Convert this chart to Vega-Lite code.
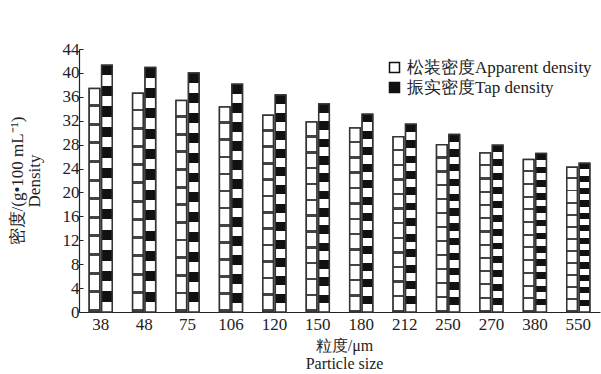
{
  "$schema": "https://vega.github.io/schema/vega-lite/v6.json",
  "autosize": "none",
  "width": 521,
  "height": 263,
  "padding": {"left": 79, "top": 49, "right": 1, "bottom": 62},
  "background": "white",
  "config": {
    "font": "Liberation Serif",
    "view": {"stroke": null},
    "axis": {"labelFont": "Liberation Serif", "titleFont": "Liberation Serif", "labelColor": "#222", "titleColor": "#222", "domainColor": "#222", "tickColor": "#222", "grid": false, "titleFontWeight": "normal"}
  },
  "data": {
    "values": [
      {"size": "38", "type": "松装密度Apparent density", "density": 37.4},
      {"size": "38", "type": "振实密度Tap density", "density": 41.3},
      {"size": "48", "type": "松装密度Apparent density", "density": 36.6},
      {"size": "48", "type": "振实密度Tap density", "density": 40.9},
      {"size": "75", "type": "松装密度Apparent density", "density": 35.4},
      {"size": "75", "type": "振实密度Tap density", "density": 40.0},
      {"size": "106", "type": "松装密度Apparent density", "density": 34.3},
      {"size": "106", "type": "振实密度Tap density", "density": 38.1},
      {"size": "120", "type": "松装密度Apparent density", "density": 32.9},
      {"size": "120", "type": "振实密度Tap density", "density": 36.3},
      {"size": "150", "type": "松装密度Apparent density", "density": 31.8},
      {"size": "150", "type": "振实密度Tap density", "density": 34.8},
      {"size": "180", "type": "松装密度Apparent density", "density": 30.8},
      {"size": "180", "type": "振实密度Tap density", "density": 33.1},
      {"size": "212", "type": "松装密度Apparent density", "density": 29.3},
      {"size": "212", "type": "振实密度Tap density", "density": 31.4},
      {"size": "250", "type": "松装密度Apparent density", "density": 28.0},
      {"size": "250", "type": "振实密度Tap density", "density": 29.7},
      {"size": "270", "type": "松装密度Apparent density", "density": 26.6},
      {"size": "270", "type": "振实密度Tap density", "density": 27.9},
      {"size": "380", "type": "松装密度Apparent density", "density": 25.5},
      {"size": "380", "type": "振实密度Tap density", "density": 26.5},
      {"size": "550", "type": "松装密度Apparent density", "density": 24.2},
      {"size": "550", "type": "振实密度Tap density", "density": 24.9}
    ]
  },
  "encoding": {
    "x": {
      "field": "size", "type": "ordinal",
      "sort": ["38","48","75","106","120","150","180","212","250","270","380","550"],
      "scale": {"paddingInner": 0.47, "paddingOuter": 0.235},
      "axis": {"title": ["粒度/μm", "Particle size"], "labelAngle": 0, "labelFontSize": 17, "titleFontSize": 16, "ticks": false, "labelPadding": 4, "titlePadding": 5, "titleLineHeight": 18, "titleX": 265, "domainWidth": 1.2}
    },
    "xOffset": {
      "field": "type", "type": "nominal",
      "scale": {"domain": ["松装密度Apparent density", "振实密度Tap density"], "paddingInner": 0.15, "paddingOuter": 0}
    },
    "y": {
      "field": "density", "type": "quantitative",
      "scale": {"domain": [0, 44], "nice": false},
      "axis": {"title": ["密度/(g•100 mL⁻¹)", "Density"], "values": [0,4,8,12,16,20,24,28,32,36,40,44], "labelFontSize": 17, "titleFontSize": 17, "tickSize": -4, "labelPadding": 4, "titlePadding": 19, "titleLineHeight": 17, "domainWidth": 1.2}
    }
  },
  "layer": [
    {
      "mark": {"type": "bar", "stroke": "#333", "strokeWidth": 1.5},
      "encoding": {
        "color": {
          "field": "type", "type": "nominal",
          "scale": {"domain": ["松装密度Apparent density", "振实密度Tap density"], "range": ["#ffffff", "#111111"]},
          "legend": {"title": null, "orient": "none", "legendX": 307, "legendY": 10, "symbolType": "square", "symbolSize": 100, "symbolStrokeColor": "#111", "symbolStrokeWidth": 1.5, "labelFontSize": 17, "labelFont": "Liberation Serif", "labelColor": "#222", "rowPadding": 2, "labelOffset": 4, "labelLimit": 300}
        }
      }
    },
    {
      "transform": [{"filter": "datum.type == '振实密度Tap density'"}],
      "mark": {
        "type": "bar", "stroke": "#333", "strokeWidth": 1.5,
        "fill": {
          "gradient": "linear", "x1": 0, "y1": 0, "x2": 0, "y2": 1,
          "stops": [
            {"offset": 0, "color": "#111"}, {"offset": 0.0417, "color": "#111"}, {"offset": 0.0417, "color": "#fff"}, {"offset": 0.0833, "color": "#fff"},
            {"offset": 0.0833, "color": "#111"}, {"offset": 0.125, "color": "#111"}, {"offset": 0.125, "color": "#fff"}, {"offset": 0.1667, "color": "#fff"},
            {"offset": 0.1667, "color": "#111"}, {"offset": 0.2083, "color": "#111"}, {"offset": 0.2083, "color": "#fff"}, {"offset": 0.25, "color": "#fff"},
            {"offset": 0.25, "color": "#111"}, {"offset": 0.2917, "color": "#111"}, {"offset": 0.2917, "color": "#fff"}, {"offset": 0.3333, "color": "#fff"},
            {"offset": 0.3333, "color": "#111"}, {"offset": 0.375, "color": "#111"}, {"offset": 0.375, "color": "#fff"}, {"offset": 0.4167, "color": "#fff"},
            {"offset": 0.4167, "color": "#111"}, {"offset": 0.4583, "color": "#111"}, {"offset": 0.4583, "color": "#fff"}, {"offset": 0.5, "color": "#fff"},
            {"offset": 0.5, "color": "#111"}, {"offset": 0.5417, "color": "#111"}, {"offset": 0.5417, "color": "#fff"}, {"offset": 0.5833, "color": "#fff"},
            {"offset": 0.5833, "color": "#111"}, {"offset": 0.625, "color": "#111"}, {"offset": 0.625, "color": "#fff"}, {"offset": 0.6667, "color": "#fff"},
            {"offset": 0.6667, "color": "#111"}, {"offset": 0.7083, "color": "#111"}, {"offset": 0.7083, "color": "#fff"}, {"offset": 0.75, "color": "#fff"},
            {"offset": 0.75, "color": "#111"}, {"offset": 0.7917, "color": "#111"}, {"offset": 0.7917, "color": "#fff"}, {"offset": 0.8333, "color": "#fff"},
            {"offset": 0.8333, "color": "#111"}, {"offset": 0.875, "color": "#111"}, {"offset": 0.875, "color": "#fff"}, {"offset": 0.9167, "color": "#fff"},
            {"offset": 0.9167, "color": "#111"}, {"offset": 0.9583, "color": "#111"}, {"offset": 0.9583, "color": "#fff"}, {"offset": 1, "color": "#fff"}
          ]
        }
      },
      "encoding": {}
    },
    {
      "transform": [{"filter": "datum.type == '松装密度Apparent density'"}],
      "mark": {
        "type": "bar", "stroke": "#333", "strokeWidth": 1.5,
        "fill": {
          "gradient": "linear", "x1": 0, "y1": 0, "x2": 0, "y2": 1,
          "stops": [
            {"offset": 0, "color": "#fff"}, {"offset": 0.07, "color": "#fff"}, {"offset": 0.07, "color": "#444"}, {"offset": 0.0833, "color": "#444"},
            {"offset": 0.0833, "color": "#fff"}, {"offset": 0.1533, "color": "#fff"}, {"offset": 0.1533, "color": "#444"}, {"offset": 0.1667, "color": "#444"},
            {"offset": 0.1667, "color": "#fff"}, {"offset": 0.2367, "color": "#fff"}, {"offset": 0.2367, "color": "#444"}, {"offset": 0.25, "color": "#444"},
            {"offset": 0.25, "color": "#fff"}, {"offset": 0.32, "color": "#fff"}, {"offset": 0.32, "color": "#444"}, {"offset": 0.3333, "color": "#444"},
            {"offset": 0.3333, "color": "#fff"}, {"offset": 0.4033, "color": "#fff"}, {"offset": 0.4033, "color": "#444"}, {"offset": 0.4167, "color": "#444"},
            {"offset": 0.4167, "color": "#fff"}, {"offset": 0.4867, "color": "#fff"}, {"offset": 0.4867, "color": "#444"}, {"offset": 0.5, "color": "#444"},
            {"offset": 0.5, "color": "#fff"}, {"offset": 0.57, "color": "#fff"}, {"offset": 0.57, "color": "#444"}, {"offset": 0.5833, "color": "#444"},
            {"offset": 0.5833, "color": "#fff"}, {"offset": 0.6533, "color": "#fff"}, {"offset": 0.6533, "color": "#444"}, {"offset": 0.6667, "color": "#444"},
            {"offset": 0.6667, "color": "#fff"}, {"offset": 0.7367, "color": "#fff"}, {"offset": 0.7367, "color": "#444"}, {"offset": 0.75, "color": "#444"},
            {"offset": 0.75, "color": "#fff"}, {"offset": 0.82, "color": "#fff"}, {"offset": 0.82, "color": "#444"}, {"offset": 0.8333, "color": "#444"},
            {"offset": 0.8333, "color": "#fff"}, {"offset": 0.9033, "color": "#fff"}, {"offset": 0.9033, "color": "#444"}, {"offset": 0.9167, "color": "#444"},
            {"offset": 0.9167, "color": "#fff"}, {"offset": 0.9867, "color": "#fff"}, {"offset": 0.9867, "color": "#444"}, {"offset": 1, "color": "#444"}
          ]
        }
      },
      "encoding": {}
    }
  ]
}
